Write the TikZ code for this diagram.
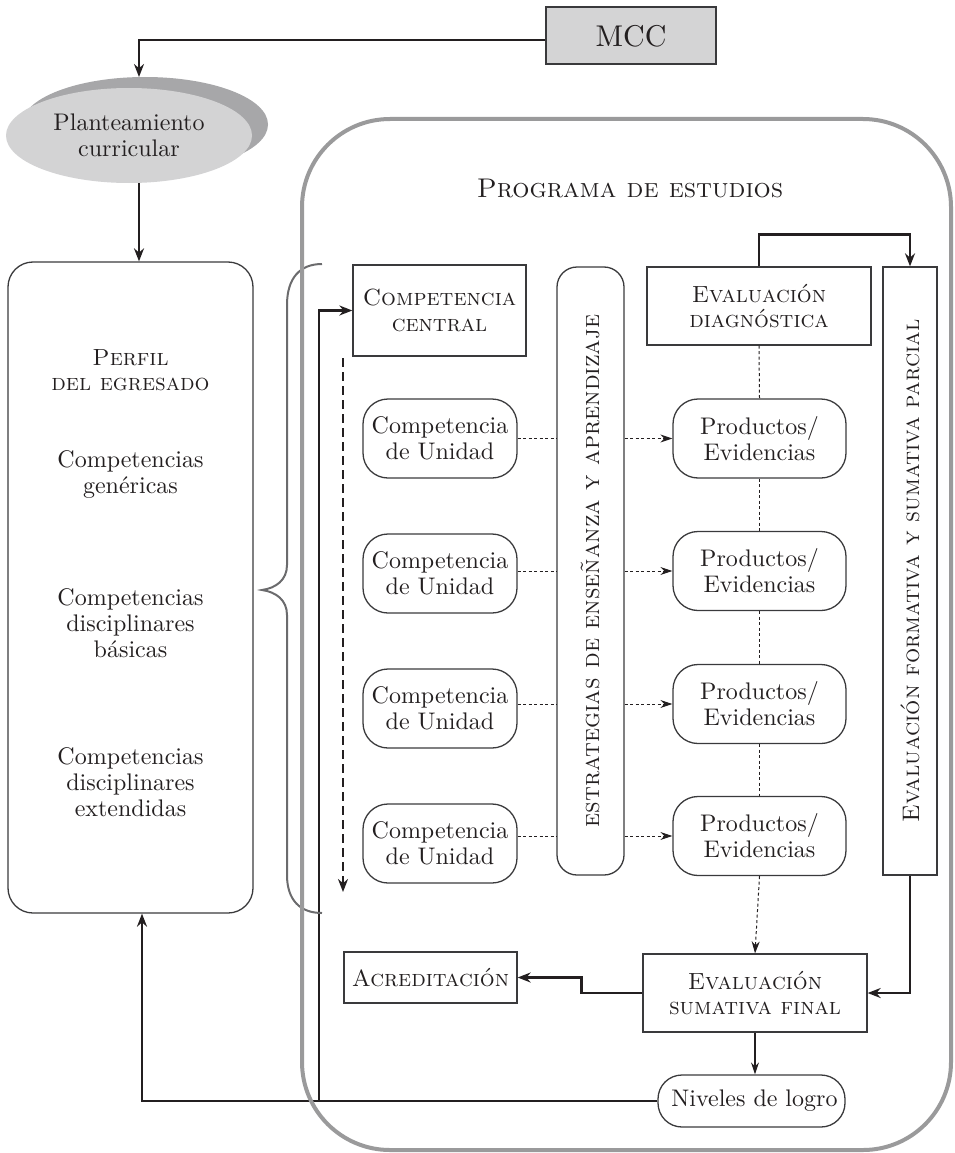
\documentclass[tikz,border=0pt]{standalone}
\usepackage{fontspec}
\setmainfont{lmroman10-regular.otf}[SmallCapsFont=lmromancaps10-regular.otf]
\usetikzlibrary{arrows.meta,calc,shapes.geometric}
\definecolor{txt}{HTML}{231F20}
\definecolor{pgray}{HTML}{9A9A9B}
\definecolor{ellgray}{HTML}{D3D3D4}
\definecolor{shgray}{HTML}{A7A7A9}
\definecolor{mccgray}{HTML}{D4D4D5}
\definecolor{bracegray}{HTML}{6B6B6D}
\definecolor{boxline}{HTML}{3A3A3C}
\newcommand{\sctext}{\fontsize{23.4}{25.5}\selectfont\scshape}
\begin{document}
\begin{tikzpicture}[x=1pt,y=-1pt,
  font=\fontsize{24}{26}\selectfont, text=txt,
  sqbox/.style={draw=boxline, line width=1.3pt, align=center, inner sep=0pt},
  rbox/.style={sqbox, rounded corners=25pt},
  plain/.style={align=center, inner sep=0pt},
  thickarrow/.style={draw=txt, line width=2.6pt, -{Stealth[length=13pt,width=10pt]}},
  thinarrow/.style={draw=txt, line width=1.3pt, -{Stealth[length=12pt,width=8pt]}},
  dashline/.style={draw=txt, line width=1pt, dash pattern=on 3pt off 2.5pt},
  dasharrow/.style={dashline, -{Stealth[length=12pt,width=8pt]}},
  bigdash/.style={draw=txt, line width=2.6pt, dash pattern=on 9pt off 5pt, -{Stealth[length=13pt,width=10pt]}},
  bracestyle/.style={draw=bracegray, line width=2pt}
]
\useasboundingbox (0,0) rectangle (954,1153);

% MCC and ellipse
\node[sqbox, fill=mccgray, line width=2pt, minimum width=170, minimum height=57, font=\fontsize{30}{32}\selectfont] (mcc) at (631,36) {MCC};
\node[ellipse, fill=shgray, minimum width=246, minimum height=95, inner sep=0pt] (planshadow) at (145,124.5) {};
\node[ellipse, fill=ellgray, minimum width=246, minimum height=95, inner sep=0pt, align=center] (plan) at (129,135.5) {Planteamiento\\curricular};
\coordinate (planin) at (139,77);

% Perfil
\node[rbox, minimum width=245, minimum height=651] (perfil) at (130.5,587.5) {};
\node[plain, font=\sctext] (pf1) at (130.5,370) {Perfil\\del egresado};
\node[plain] (pf2) at (130.5,475) {Competencias\\genéricas};
\node[plain] (pf3) at (130.5,623) {Competencias\\disciplinares\\básicas};
\node[plain] (pf4) at (130.5,782) {Competencias\\disciplinares\\extendidas};

% Program content
\node[sqbox, minimum width=173, minimum height=91, font=\sctext] (cc) at (439.5,310.5) {Competencia\\central};
\node[sqbox, rounded corners=20pt, minimum width=67, minimum height=608] (estr) at (590.5,571) {};
\node[plain, rotate=90, font=\fontsize{25.2}{26}\selectfont\scshape] (estrt) at (590.5,571) {estrategias de enseñanza y aprendizaje};
\node[sqbox, minimum width=224, minimum height=78, font=\sctext] (diag) at (759,306) {Evaluación\\diagnóstica};
\node[sqbox, minimum width=54, minimum height=608] (form) at (910,571) {};
\node[plain, rotate=90, font=\fontsize{23.9}{26}\selectfont\scshape] (formt) at (910,571) {Evaluación formativa y sumativa parcial};

\foreach \i/\yc/\yp in {1/438.5/438.5, 2/573.5/571, 3/708.5/704, 4/843.5/836}{
  \node[rbox, minimum width=154, minimum height=79] (cdu\i) at (440,\yc) {Competencia\\de Unidad};
  \node[rbox, minimum width=173, minimum height=79] (p\i) at (759.5,\yp) {Productos/\\Evidencias};
  \draw[dashline] (cdu\i.east |- p\i.west) -- (estr.west |- p\i.west);
  \draw[dasharrow] (estr.east |- p\i.west) -- (p\i.west);
}

\node[sqbox, minimum width=173, minimum height=51, font=\sctext] (acr) at (430.5,977.5) {Acreditación};
\node[sqbox, minimum width=224, minimum height=78, font=\sctext] (sum) at (755,993) {Evaluación\\sumativa final};
\node[rbox, rounded corners=24pt, minimum width=187, minimum height=52] (niv) at (751.5,1101) {\hspace{6pt}Niveles de logro};

\node[plain, font=\fontsize{27}{29}\selectfont\scshape] (progt) at (630,188) {Programa de estudios};

% connectors
\draw[thickarrow] ([yshift=-4pt]mcc.west) -| (planin);
\draw[thickarrow] ([xshift=10pt]plan.south) -- ([xshift=8.5pt]perfil.north);
\draw[thickarrow] (niv.west) -| ([xshift=11.5pt]perfil.south);
\coordinate (jn) at (319,1101);
\draw[thickarrow] (jn) |- (cc.west);
\draw[thickarrow] (diag.north) -- ++(0,-32) -| (form.north);
\draw[thickarrow] (form.south) |- (sum.east);
\draw[thickarrow] (sum.west) -- ++(-61,0) |- (acr.east);
\draw[thinarrow] (sum.south) -- (sum.south |- niv.north);

\draw[dashline] (diag.south) -- (p1.north);
\draw[dashline] (p1.south) -- (p2.north);
\draw[dashline] (p2.south) -- (p3.north);
\draw[dashline] (p3.south) -- (p4.north);
\draw[dasharrow] (p4.south) -- (sum.north);

\coordinate (dtop) at (343,358);
\coordinate (dbot) at (343,892);
\draw[bigdash] (dtop) -- (dbot);

% brace
\draw[bracestyle] (322,264) .. controls (300,264) and (287,278) .. (287,305) -- (287,565)
  .. controls (287,580) and (276,588) .. (262,590)
  .. controls (276,592) and (287,600) .. (287,615) -- (287,875)
  .. controls (287,900) and (300,913) .. (322,913);

% program frame
\node[draw=pgray, line width=4pt, rounded corners=88pt, minimum width=649, minimum height=1031, inner sep=0pt] (prog) at (626.5,634.5) {};
\end{tikzpicture}
\end{document}
